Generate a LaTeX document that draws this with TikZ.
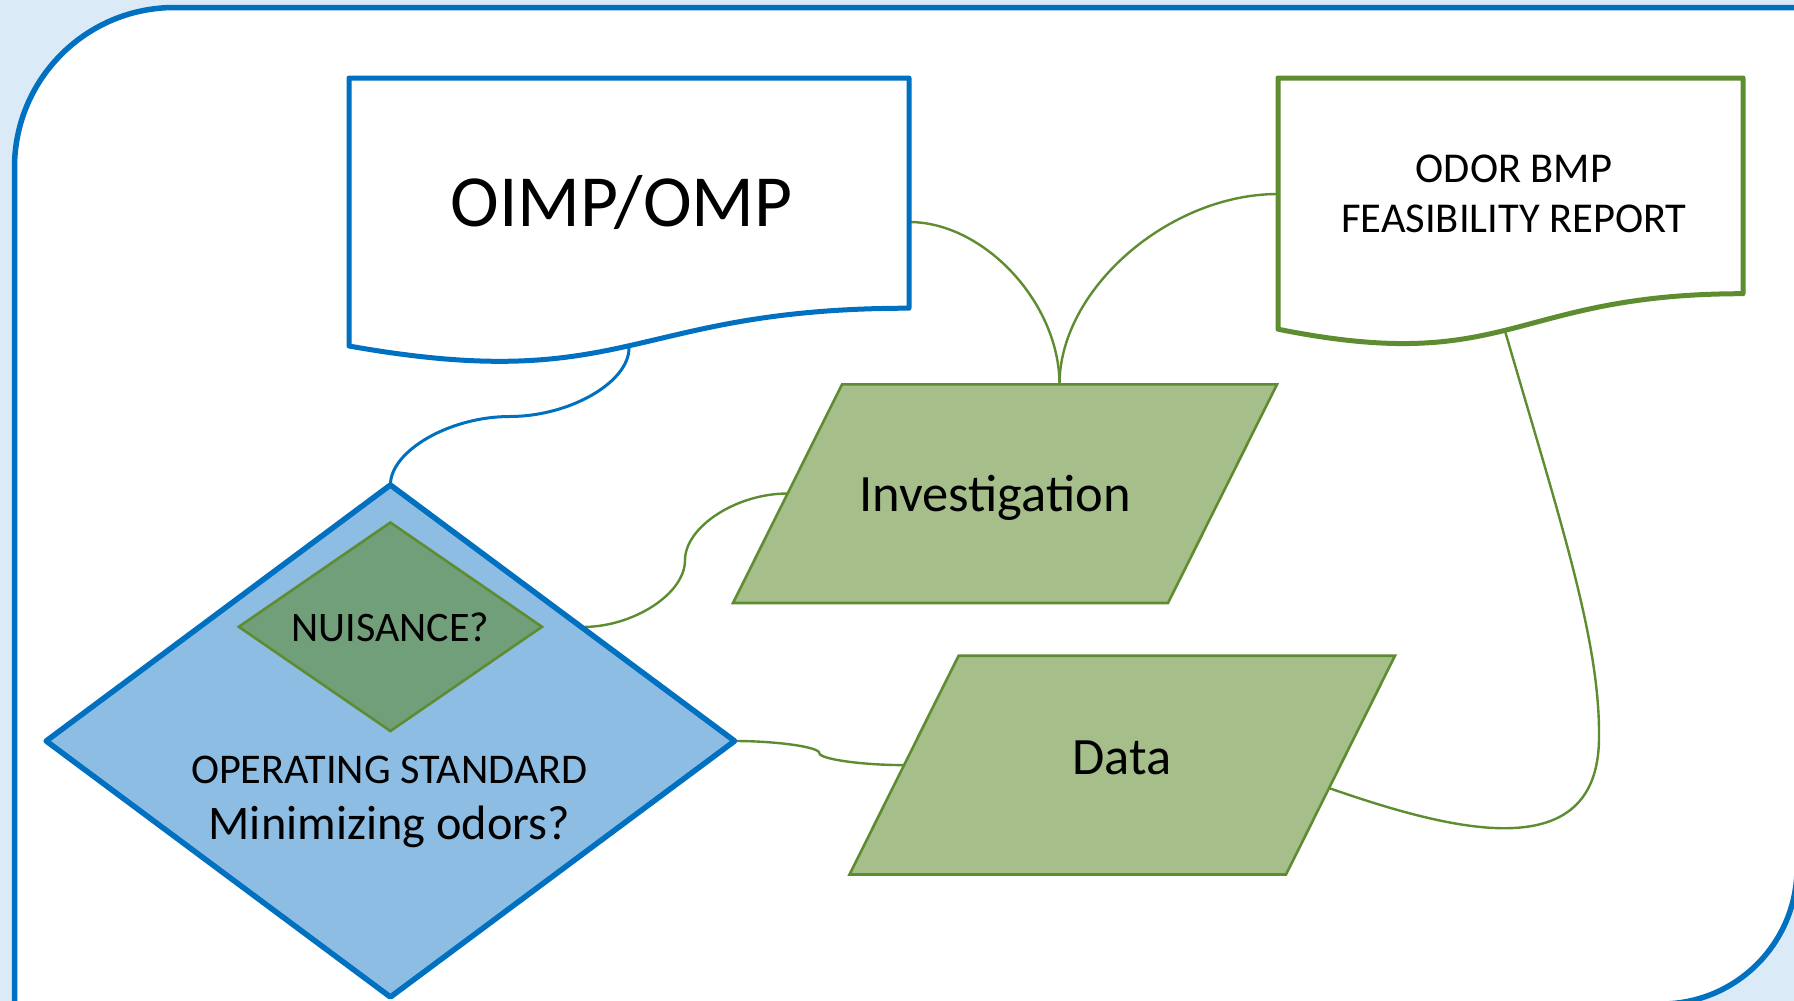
\documentclass[tikz,border=0pt]{standalone}
\usepackage{fontspec}
\setmainfont{Carlito}
\definecolor{frameblue}{HTML}{0070C0}
\definecolor{bgblue}{HTML}{DAEBF7}
\definecolor{dfill}{HTML}{8DBDE3}
\definecolor{gfill}{HTML}{A6BF8A}
\definecolor{gline}{HTML}{5E8C31}
\definecolor{sfill}{HTML}{709F7A}
\begin{document}
\begin{tikzpicture}[x=1pt,y=-1pt,
  docblue/.style={draw=frameblue,line width=5pt,fill=white,line join=round},
  docgreen/.style={draw=gline,line width=5pt,fill=white,line join=round},
  paragram/.style={draw=gline,line width=2.6pt,fill=gfill},
  bigdia/.style={draw=frameblue,line width=5.5pt,fill=dfill,line join=round},
  smalldia/.style={draw=gline,line width=2.6pt,fill=sfill},
  conng/.style={draw=gline,line width=2.4pt},
  connb/.style={draw=frameblue,line width=3pt},
  lbl/.style={anchor=base,inner sep=0pt,text=black}]
\useasboundingbox (0,0) rectangle (1794,1001);
\clip (0,0) rectangle (1794,1001);
% background and frame
\fill[bgblue] (0,0) rectangle (1794,1001);
\path[fill=white,draw=frameblue,line width=5.5pt]
  (14.5,1004) -- (14.5,167.5) .. controls (14.5,79.1) and (86.1,7.5) .. (174.5,7.5)
  -- (1797,7.5) -- (1797,868) .. controls (1797,943.1) and (1736.1,1004) .. (1661,1004) -- cycle;
% connection points
\coordinate (oimpB) at (629,348);
\coordinate (oimpR) at (909,222);
\coordinate (odorL) at (1278,194);
\coordinate (odorB) at (1505,331);
\coordinate (invT) at (1059.5,384.4);
\coordinate (invL) at (787.5,493.5);
\coordinate (dataL) at (904,765.1);
\coordinate (dataR) at (1329.6,788.3);
\coordinate (diaT) at (390.4,485);
\coordinate (diaR) at (734.6,741);
\coordinate (diaE) at (582.5,627);
% connectors (behind shapes)
\draw[connb] (oimpB) .. controls (629,382.3) and (569.7,416.5) .. (509.7,416.5)
  .. controls (450,416.5) and (390.4,450.8) .. (diaT);
\draw[conng] (oimpR) .. controls (984.3,222) and (1059.5,303.2) .. (invT);
\draw[conng] (odorL) .. controls (1168.8,194) and (1059.5,289.2) .. (invT);
\draw[conng] (diaE) .. controls (633.75,627) and (685,593.6) .. (685,560.25)
  .. controls (685,526.9) and (736.25,493.5) .. (invL);
\draw[conng] (diaR) .. controls (777,741) and (819.3,747) .. (819.3,753.05)
  .. controls (819.3,759.1) and (861.6,765.1) .. (dataL);
\draw[conng] (odorB) .. controls (1560,520) and (1600,640) .. (1599,737)
  .. controls (1599,870) and (1450,830) .. (dataR);
% document shapes
\path[docblue] (349,78) -- (909,78) -- (909,308.2)
  .. controls (629,308.2) and (629,395.8) .. (349,346) -- cycle;
\path[docgreen] (1278,78) -- (1743,78) -- (1743,293.7)
  .. controls (1510.5,293.7) and (1510.5,375.9) .. (1278,329.2) -- cycle;
% parallelograms
\path[paragram] (733,603) -- (842,384.4) -- (1277,384.4) -- (1168,603) -- cycle;
\path[paragram] (849.5,874.5) -- (958.6,655.7) -- (1395,655.7) -- (1286,874.5) -- cycle;
% diamonds
\path[bigdia] (390.4,485) -- (734.6,741) -- (390.4,997) -- (46.2,741) -- cycle;
\path[smalldia] (390.4,522.5) -- (542,626.8) -- (390.4,731) -- (238.8,626.8) -- cycle;
% texts
\node[lbl,font=\fontsize{73.5}{88}\selectfont] (toimp) at (621.7,226.7) {OIMP/OMP};
\node[lbl,font=\fontsize{42.5}{51}\selectfont] (todor1) at (1514,182) {ODOR BMP};
\node[lbl,font=\fontsize{42.5}{51}\selectfont] (todor2) at (1514,232) {FEASIBILITY REPORT};
\node[lbl,font=\fontsize{52.5}{63}\selectfont] (tinv) at (995,511.7) {Investigation};
\node[lbl,font=\fontsize{52.5}{63}\selectfont] (tdata) at (1122,774) {Data};
\node[lbl,font=\fontsize{42}{50}\selectfont] (tnuis) at (390.4,641) {NUISANCE?};
\node[lbl,font=\fontsize{42.3}{50}\selectfont] (tops) at (389.3,783) {OPERATING STANDARD};
\node[lbl,font=\fontsize{48.3}{58}\selectfont] (tmin) at (389.3,839) {Minimizing odors?};
\end{tikzpicture}
\end{document}
